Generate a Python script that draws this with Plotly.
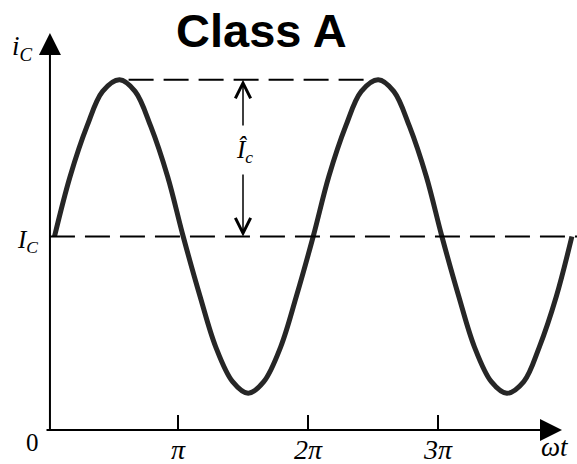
import plotly.graph_objects as go

# wave samples, x in multiples of pi, y relative to I_C = 1
wt = [0.05, 0.17, 0.30, 0.42, 0.55, 0.67, 0.79, 0.92, 1.04,
      1.17, 1.29, 1.42, 1.54, 1.66, 1.79, 1.91, 2.04,
      2.16, 2.29, 2.41, 2.54, 2.66, 2.78, 2.91, 3.03,
      3.16, 3.28, 3.41, 3.53, 3.66, 3.78, 3.91, 4.03]
ic = [1.0, 1.31, 1.57, 1.75, 1.81, 1.75, 1.57, 1.31, 1.0,
      0.69, 0.43, 0.25, 0.19, 0.25, 0.43, 0.69, 1.0,
      1.31, 1.57, 1.75, 1.81, 1.75, 1.57, 1.31, 1.0,
      0.69, 0.43, 0.25, 0.19, 0.25, 0.43, 0.69, 1.0]

I_C = 1.0
I_peak = 1.81
tick_vals = [1, 2, 3]
tick_text = ['<i>π</i>', '<i>2π</i>', '<i>3π</i>']

serif = 'Liberation Serif, Times New Roman, serif'

fig = go.Figure()
fig.add_trace(go.Scatter(x=wt, y=ic, mode='lines',
                         line=dict(color='#262626', width=5, shape='spline', smoothing=1.0),
                         hoverinfo='skip', showlegend=False))

# dashed reference levels
fig.add_shape(type='line', x0=0.015, x1=4.08, y0=I_C, y1=I_C,
              line=dict(color='black', width=2, dash='25px,10px'))
fig.add_shape(type='line', x0=0.62, x1=2.5, y0=I_peak, y1=I_peak,
              line=dict(color='black', width=2, dash='25px,10px'))

# axes with arrow heads
fig.add_annotation(x=0.015, y=2.052, ax=0.015, ay=-0.01, xref='x', yref='y', axref='x', ayref='y',
                   text='', showarrow=True, arrowhead=2, arrowsize=2.2, arrowwidth=2, arrowcolor='black')
fig.add_annotation(x=3.954, y=0, ax=-0.023, ay=0, xref='x', yref='y', axref='x', ayref='y',
                   text='', showarrow=True, arrowhead=2, arrowsize=2.2, arrowwidth=2, arrowcolor='black')

# amplitude arrows
fig.add_annotation(x=1.5, y=I_peak, ax=1.5, ay=1.566, xref='x', yref='y', axref='x', ayref='y',
                   text='', showarrow=True, arrowhead=5, arrowsize=2, arrowwidth=1.5, arrowcolor='black')
fig.add_annotation(x=1.5, y=I_C, ax=1.5, ay=1.328, xref='x', yref='y', axref='x', ayref='y',
                   text='', showarrow=True, arrowhead=5, arrowsize=2, arrowwidth=1.5, arrowcolor='black')

labels = [
    (1.515, 1.437, '<i>Î<sub>c</sub></i>', 25),
    (-0.2, 1.974, '<i>i<sub>C</sub></i>', 27),
    (-0.16, 0.975, '<i>I<sub>C</sub></i>', 25),
    (-0.123, -0.062, '0', 25),
    (3.9, -0.088, '<i>ωt</i>', 27),
]
for x, y, t, s in labels:
    fig.add_annotation(x=x, y=y, xref='x', yref='y', text=t, showarrow=False,
                       font=dict(family=serif, size=s, color='black'))

fig.add_annotation(x=1.646, y=2.067, xref='x', yref='y', text='<b>Class A</b>', showarrow=False,
                   font=dict(family='Liberation Sans, Arial, sans-serif', size=47, color='black'))

fig.update_xaxes(range=[-48 / 130, 529 / 130], anchor='free', position=34 / 464,
                 showgrid=False, zeroline=False, showline=False,
                 tickvals=tick_vals, ticktext=tick_text, ticks='inside', ticklen=15,
                 tickwidth=2, tickcolor='black',
                 tickfont=dict(family=serif, size=28, color='black'))
fig.update_yaxes(range=[-34 / 193.5, 430 / 193.5], visible=False)
fig.update_layout(width=577, height=464, margin=dict(l=0, r=0, t=0, b=0),
                  paper_bgcolor='white', plot_bgcolor='white')

fig.write_html("out.html", config={'displayModeBar': False},
               post_script="document.body.style.margin='0';")
